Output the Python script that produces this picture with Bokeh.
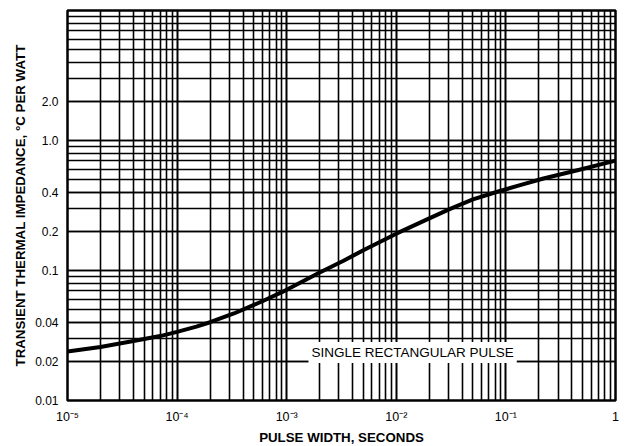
from bokeh.plotting import figure
from bokeh.models import FixedTicker, Label
from bokeh.embed import file_html
from bokeh.resources import INLINE

# Curve (pulse width in s, impedance in degC/W)
pulse_width = [1e-5, 2e-5, 4e-5, 7e-5, 1e-4, 1.5e-4, 2e-4, 3.3e-4, 6e-4, 1e-3,
               2e-3, 3.3e-3, 5e-3, 1e-2, 2e-2, 3.1e-2, 5e-2, 8.5e-2, 0.13,
               0.22, 0.45, 1.0]
impedance = [0.0238, 0.0258, 0.0287, 0.0313, 0.0337, 0.0370, 0.0400, 0.0467, 0.058, 0.071,
             0.0966, 0.119, 0.143, 0.192, 0.252, 0.298, 0.352, 0.405, 0.45,
             0.51, 0.59, 0.70]

x_major = [1e-5, 1e-4, 1e-3, 1e-2, 1e-1, 1.0]
x_labels = ["10\u207b\u2075", "10\u207b\u2074", "10\u207b\u00b3", "10\u207b\u00b2", "10\u207b\u00b9", "1"]
y_major = [0.01, 0.02, 0.04, 0.1, 0.2, 0.4, 1.0, 2.0]
y_labels = ["0.01", "0.02", "0.04", "0.1", "0.2", "0.4", "1.0", "2.0"]

x_decades = [-5, -4, -3, -2, -1]
y_decades = [-2, -1, 0]

x_minor = [m * 10.0 ** e for e in x_decades for m in range(1, 10)] + [1.0]
y_minor = [m * 10.0 ** e for e in y_decades for m in range(1, 10)] + [10.0]

FONT = "Liberation Sans"

p = figure(x_axis_type="log", y_axis_type="log",
           x_range=(1e-5, 1.0), y_range=(0.01, 10.0),
           frame_width=548, frame_height=390,
           min_border_left=67, min_border_top=10, min_border_right=8, min_border_bottom=40,
           output_backend="svg", toolbar_location=None)

p.background_fill_color = "white"
p.border_fill_color = "white"
p.outline_line_color = "black"
p.outline_line_width = 2.5

p.xaxis.ticker = FixedTicker(ticks=x_major, minor_ticks=x_minor)
p.yaxis.ticker = FixedTicker(ticks=y_major, minor_ticks=y_minor)
p.xaxis.major_label_overrides = dict(zip(x_major, x_labels))
p.yaxis.major_label_overrides = dict(zip(y_major, y_labels))

for ax in (p.xaxis, p.yaxis):
    ax.major_tick_in = 0
    ax.major_tick_out = 0
    ax.minor_tick_in = 0
    ax.minor_tick_out = 0
    ax.axis_line_color = None
    ax.major_label_text_font = FONT
    ax.major_label_text_font_size = "12px"
    ax.major_label_text_color = "black"
    ax.axis_label_text_font = FONT
    ax.axis_label_text_font_size = "13.3px"
    ax.axis_label_text_font_style = "bold"
    ax.axis_label_text_color = "black"

p.xaxis.major_label_text_font_size = "12.5px"
p.xaxis.major_label_standoff = 9
p.yaxis.major_label_standoff = 9
p.xaxis.axis_label = "PULSE WIDTH, SECONDS"
p.yaxis.axis_label = "TRANSIENT THERMAL IMPEDANCE, \u00b0C PER WATT"
p.xaxis.axis_label_standoff = 3
p.yaxis.axis_label_standoff = 4

for g in (p.xgrid, p.ygrid):
    g.grid_line_color = "black"
    g.grid_line_width = 1.6
    g.grid_line_alpha = 1.0
    g.minor_grid_line_color = "black"
    g.minor_grid_line_width = 1.6
    g.minor_grid_line_alpha = 1.0

p.line(pulse_width, impedance, line_color="black", line_width=4, line_join="round", line_cap="round")

label = Label(x=1.58e-3, y=0.0234, text="SINGLE RECTANGULAR PULSE",
              text_font=FONT, text_font_size="13.5px", text_color="black",
              text_align="left", text_baseline="middle",
              background_fill_color="white", padding=3)
p.add_layout(label)

open("out.html", "w").write(file_html(p, INLINE))
